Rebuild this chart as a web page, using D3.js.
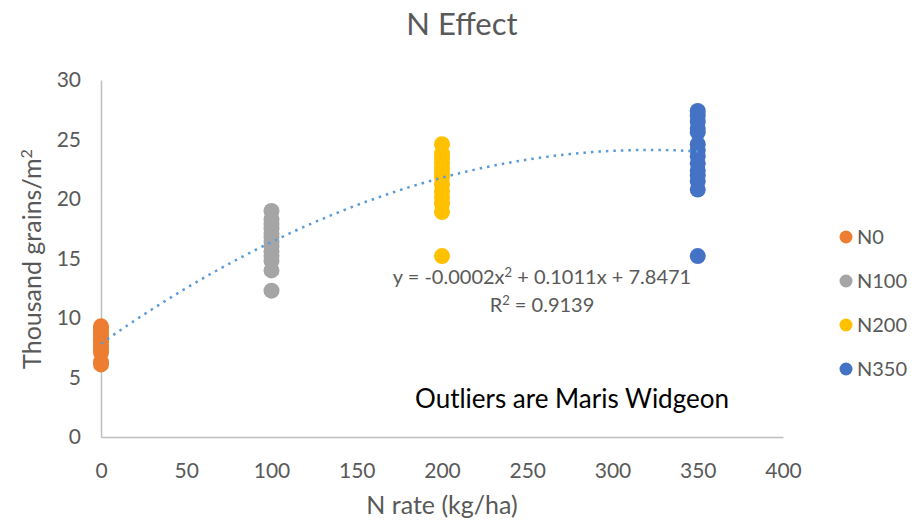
<!DOCTYPE html>
<html>
<head>
<meta charset="utf-8">
<script src="https://cdn.jsdelivr.net/npm/d3@7"></script>
<style>
  body { margin: 0; background: #fff; }
  text { font-family: Lato, "Open Sans", sans-serif; }
</style>
</head>
<body>
<div id="chart"></div>
<script>
// data
var series = ["N0", "N100", "N200", "N350"];
var rates = [0, 100, 200, 350];
var colors = ["#ED7D31", "#A5A5A5", "#FFC000", "#4472C4"];
var n0 = [9.3, 9.1, 8.8, 8.5, 8.2, 8.0, 7.7, 7.4, 7.1, 6.3, 6.1];
var n100 = [19.0, 18.3, 17.9, 17.5, 17.1, 16.8, 16.4, 16.0, 15.6, 15.2, 14.8, 14.0, 12.3];
var n200 = [24.6, 23.8, 23.4, 23.0, 22.6, 22.2, 21.8, 21.2, 20.6, 20.1, 19.6, 18.9, 15.2];
var n350 = [27.4, 27.0, 26.5, 25.9, 25.6, 24.6, 24.1, 23.6, 23.0, 22.4, 22.0, 21.5, 20.8, 15.2];
var values = [n0, n100, n200, n350];
var xTicks = [0, 50, 100, 150, 200, 250, 300, 350, 400];
var yTicks = [0, 5, 10, 15, 20, 25, 30];
// trendline coefficients (a x^2 + b x + c), unrounded
var trend = [-0.000157, 0.1011, 7.8471];

var width = 919, height = 520;
var svg = d3.select("#chart").append("svg")
  .attr("width", width).attr("height", height);

var x = d3.scaleLinear().domain([0, 400]).range([101, 783]);
var y = d3.scaleLinear().domain([0, 30]).range([437, 80]);

// title
svg.append("text").attr("x", 462).attr("y", 35)
  .attr("text-anchor", "middle").attr("font-size", 31).attr("fill", "#595959")
  .text("N Effect");

// axes
var xAxis = svg.append("g").attr("transform", "translate(0,437)")
  .call(d3.axisBottom(x).tickValues(xTicks).tickSize(0).tickPadding(26));
var yAxis = svg.append("g").attr("transform", "translate(101,0)")
  .call(d3.axisLeft(y).tickValues(yTicks).tickSize(0).tickPadding(20));
[xAxis, yAxis].forEach(function(g) {
  g.select(".domain").attr("stroke", "#BFBFBF").attr("stroke-width", 1.5);
  g.selectAll("text").attr("font-size", 21).attr("fill", "#595959")
    .attr("font-family", "Lato, 'Open Sans', sans-serif");
});

// axis titles
svg.append("text").attr("x", 442).attr("y", 514)
  .attr("text-anchor", "middle").attr("font-size", 25).attr("fill", "#595959")
  .text("N rate (kg/ha)");
var yt = svg.append("text")
  .attr("transform", "translate(41,259) rotate(-90)")
  .attr("text-anchor", "middle").attr("font-size", 25).attr("fill", "#595959");
yt.append("tspan").text("Thousand grains/m");
yt.append("tspan").attr("dy", -9).attr("font-size", 16).text("2");

// points
series.forEach(function(s, i) {
  svg.append("g").selectAll("circle")
    .data(values[i]).enter().append("circle")
    .attr("cx", x(rates[i]))
    .attr("cy", function(d) { return y(d); })
    .attr("r", 8)
    .attr("fill", colors[i]);
});

// trendline
var tx = d3.range(0, 351, 2);
var line = d3.line()
  .x(function(d) { return x(d); })
  .y(function(d) { return y(trend[0] * d * d + trend[1] * d + trend[2]); });
svg.append("path").datum(tx)
  .attr("d", line)
  .attr("fill", "none")
  .attr("stroke", "#5B9BD5")
  .attr("stroke-width", 2.5)
  .attr("stroke-dasharray", "2.5,5")
  .attr("stroke-linecap", "butt");

// equation
var eq = svg.append("text").attr("x", 542).attr("y", 284)
  .attr("text-anchor", "middle").attr("font-size", 20).attr("fill", "#595959");
eq.append("tspan").text("y = -0.0002x");
eq.append("tspan").attr("dy", -7).attr("font-size", 13).text("2");
eq.append("tspan").attr("dy", 7).text(" + 0.1011x + 7.8471");
var r2 = svg.append("text").attr("x", 542).attr("y", 312)
  .attr("text-anchor", "middle").attr("font-size", 20).attr("fill", "#595959");
r2.append("tspan").text("R");
r2.append("tspan").attr("dy", -7).attr("font-size", 13).text("2");
r2.append("tspan").attr("dy", 7).text(" = 0.9139");

svg.append("text").attr("x", 572).attr("y", 408)
  .attr("text-anchor", "middle").attr("font-size", 26).attr("fill", "#000")
  .text("Outliers are Maris Widgeon");

// legend
var leg = svg.append("g").selectAll("g")
  .data(series).enter().append("g")
  .attr("transform", function(d, i) { return "translate(846," + (237 + i * 44) + ")"; });
leg.append("circle").attr("r", 6.5)
  .attr("fill", function(d, i) { return colors[i]; });
leg.append("text").attr("x", 11).attr("y", 7)
  .attr("font-size", 20).attr("fill", "#595959")
  .text(function(d) { return d; });
</script>
</body>
</html>
